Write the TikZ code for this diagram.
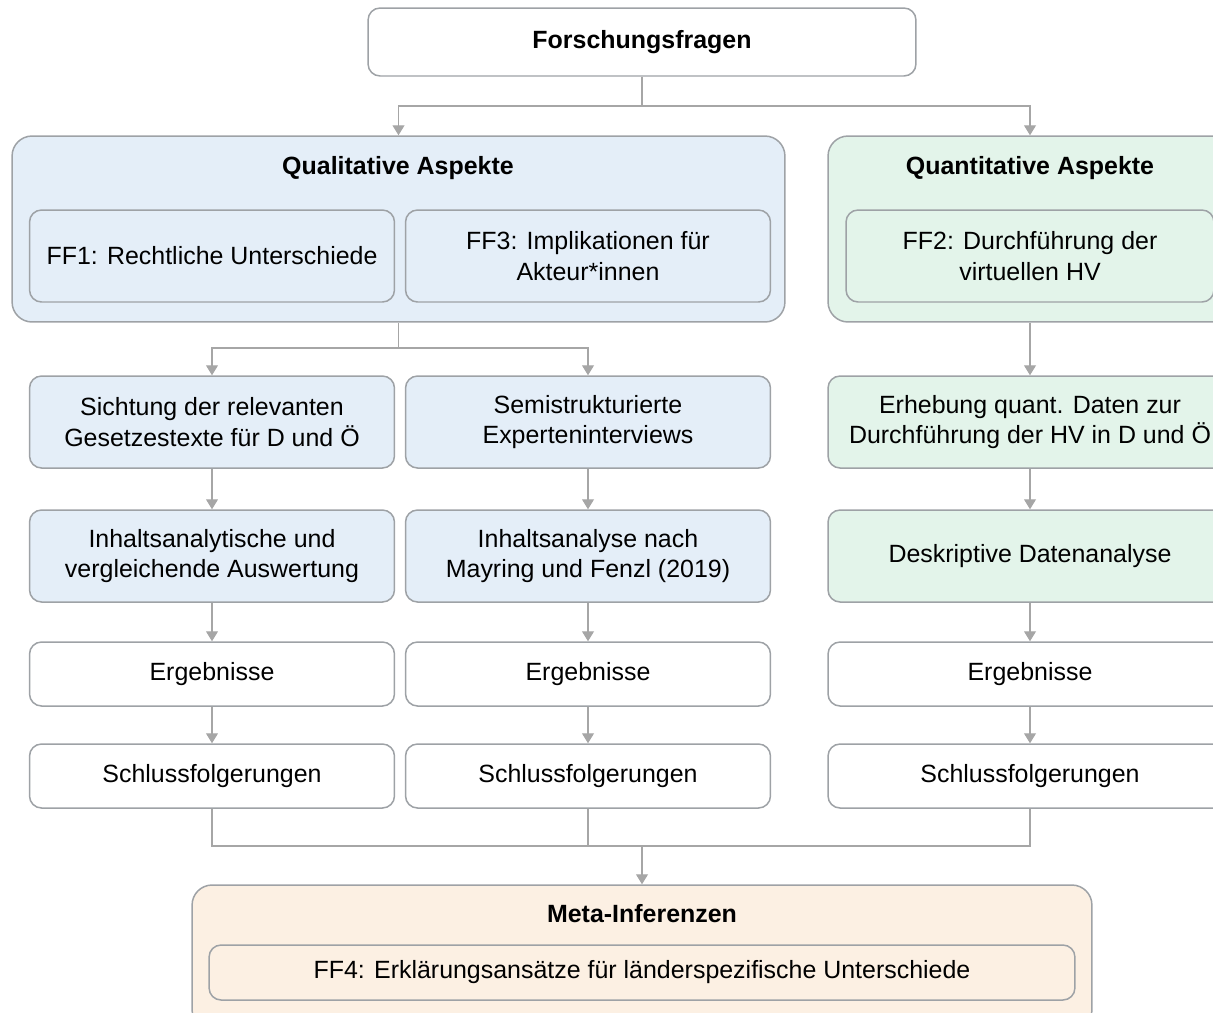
\documentclass[tikz,border=0pt]{standalone}
\usepackage{fontspec}
\setmainfont{Liberation Sans}
\definecolor{QualBlue}{RGB}{228, 238, 248}
\definecolor{QuantGreen}{RGB}{227, 244, 234}
\definecolor{MetaOrange}{RGB}{252, 240, 227}
\definecolor{BoxGray}{RGB}{158, 162, 166}
\definecolor{LineGray}{RGB}{166, 166, 166}
\usetikzlibrary{arrows.meta, positioning, calc}

\tikzset{
    every node/.style={font=\fontsize{14.2}{17.2}\selectfont, align=center},
    outerbox/.style={draw=BoxGray, line width=0.85pt, rounded corners=0.4cm, inner sep=0pt},
    innerbox/.style={draw=BoxGray, line width=0.85pt, rounded corners=0.24cm, minimum width=7.3cm, minimum height=1.84cm, inner sep=2pt},
    smallbox/.style={innerbox, minimum height=1.28cm},
    boxtitle/.style={font=\fontsize{14.2}{17.2}\selectfont\bfseries},
    conn/.style={draw=LineGray, line width=0.6pt},
    arr/.style={conn, -{Triangle[width=0.24cm, length=0.2cm]}}
}

\begin{document}
\begin{tikzpicture}[x=0.02cm, y=-0.02cm]
        \useasboundingbox (0,0) rectangle (1213,1012);

        % research questions
        \node[outerbox, fill=white, rounded corners=0.24cm, minimum width=10.96cm, minimum height=1.36cm, boxtitle] (fragen) at (642,42) {Forschungsfragen};

        % qualitative / quantitative blocks
        \node[outerbox, fill=QualBlue, minimum width=15.46cm, minimum height=3.72cm] (qual) at (398.5,229) {};
        \node[boxtitle] (qualtitle) at (398,168) {Qualitative Aspekte};
        \node[innerbox, fill=QualBlue] (ff1) at (212,256) {FF1: Rechtliche Unterschiede};
        \node[innerbox, fill=QualBlue] (ff3) at (588,256) {FF3: Implikationen für\\Akteur*innen};

        \node[outerbox, fill=QuantGreen, minimum width=8.08cm, minimum height=3.72cm] (quant) at (1030,229) {};
        \node[boxtitle] (quanttitle) at (1030,168) {Quantitative Aspekte};
        \node[innerbox, fill=QuantGreen, minimum width=7.36cm] (ff2) at (1030,256) {FF2: Durchführung der\\virtuellen HV};

        % methods
        \node[innerbox, fill=QualBlue] (sicht) at (212,422) {Sichtung der relevanten\\Gesetzestexte für D und Ö};
        \node[innerbox, fill=QualBlue] (semi) at (588,422) {Semistrukturierte\\Experteninterviews};
        \node[innerbox, fill=QuantGreen, minimum width=8.08cm] (erheb) at (1030,422) {Erhebung quant. Daten zur\\Durchführung der HV in D und Ö};

        \node[innerbox, fill=QualBlue] (ausw1) at (212,556) {Inhaltsanalytische und\\vergleichende Auswertung};
        \node[innerbox, fill=QualBlue] (ausw2) at (588,556) {Inhaltsanalyse nach\\Mayring und Fenzl (2019)};
        \node[innerbox, fill=QuantGreen, minimum width=8.08cm] (deskr) at (1030,556) {Deskriptive Datenanalyse};

        % results
        \node[smallbox, fill=white] (erg1) at (212,674) {Ergebnisse};
        \node[smallbox, fill=white] (erg2) at (588,674) {Ergebnisse};
        \node[smallbox, fill=white, minimum width=8.08cm] (erg3) at (1030,674) {Ergebnisse};

        \node[smallbox, fill=white] (schl1) at (212,776) {Schlussfolgerungen};
        \node[smallbox, fill=white] (schl2) at (588,776) {Schlussfolgerungen};
        \node[smallbox, fill=white, minimum width=8.08cm] (schl3) at (1030,776) {Schlussfolgerungen};

        % meta inferences
        \node[outerbox, fill=MetaOrange, minimum width=18cm, minimum height=2.9cm] (meta) at (642,957.5) {};
        \node[boxtitle] (metatitle) at (642,914) {Meta-Inferenzen};
        \node[innerbox, fill=MetaOrange, minimum width=17.32cm, minimum height=1.1cm] (ff4) at (642,972.5) {FF4: Erklärungsansätze für länderspezifische Unterschiede};

        % connectors
        \coordinate (split1) at (642,106);
        \coordinate (split2) at (398.5,348);
        \coordinate (join) at (642,846);

        \draw[conn] (fragen.south) -- (split1);
        \draw[arr] (split1) -| (qual.north);
        \draw[arr] (split1) -| (quant.north);

        \draw[conn] (qual.south) -- (split2);
        \draw[arr] (split2) -| (sicht.north);
        \draw[arr] (split2) -| (semi.north);
        \draw[arr] (quant.south) -- (erheb.north);

        \draw[arr] (sicht) -- (ausw1);
        \draw[arr] (semi) -- (ausw2);
        \draw[arr] (erheb) -- (deskr);

        \draw[arr] (ausw1) -- (erg1);
        \draw[arr] (ausw2) -- (erg2);
        \draw[arr] (deskr) -- (erg3);

        \draw[arr] (erg1) -- (schl1);
        \draw[arr] (erg2) -- (schl2);
        \draw[arr] (erg3) -- (schl3);

        \draw[conn] (schl1.south) |- (join);
        \draw[conn] (schl2.south) |- (join);
        \draw[conn] (schl3.south) |- (join);
        \draw[arr] (join) -- (meta.north);
    \end{tikzpicture}
\end{document}
